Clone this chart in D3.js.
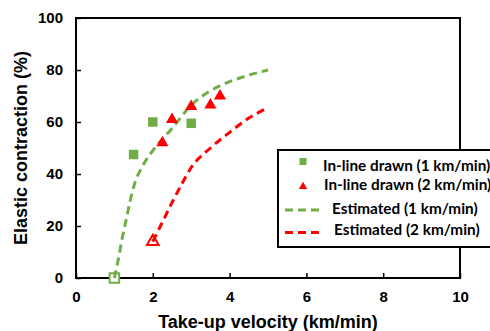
<!DOCTYPE html>
<html>
<head>
<meta charset="utf-8">
<script src="https://cdn.jsdelivr.net/npm/d3@7"></script>
<style>
  html, body { margin: 0; padding: 0; background: #fff; overflow: hidden; }
  svg { display: block; }
</style>
</head>
<body>
<svg id="chart" width="490" height="331"></svg>
<script>
// Axis ticks
const xTicks = [0, 2, 4, 6, 8, 10];
const yTicks = [0, 20, 40, 60, 80, 100];

// Measured elastic contraction (%) vs take-up velocity (km/min)
const inline1 = [{ v: 1.5, e: 47.5 }, { v: 2, e: 60 }, { v: 3, e: 59.5 }];
const inline2 = [{ v: 2.25, e: 52 }, { v: 2.5, e: 61 }, { v: 3, e: 66 }, { v: 3.5, e: 66.5 }, { v: 3.75, e: 70 }];

// Reference (zero-contraction) points at each drawing speed
const origin1 = [{ v: 1, e: 0 }];
const origin2 = [{ v: 2, e: 14 }];

// Estimated curves
const est1 = [
  { v: 1.0, e: 0 }, { v: 1.1, e: 7 }, { v: 1.2, e: 15 }, { v: 1.3, e: 22 },
  { v: 1.4, e: 29 }, { v: 1.5, e: 35 }, { v: 1.75, e: 43.5 }, { v: 2.0, e: 49 },
  { v: 2.5, e: 57.5 }, { v: 3.0, e: 66.5 }, { v: 3.5, e: 72 }, { v: 4.0, e: 75.5 },
  { v: 4.5, e: 78 }, { v: 5.0, e: 80 }
];
const est2 = [
  { v: 2.0, e: 14 }, { v: 2.25, e: 21.5 }, { v: 2.5, e: 29 }, { v: 2.75, e: 36 },
  { v: 3.0, e: 42.5 }, { v: 3.5, e: 50 }, { v: 4.0, e: 56 }, { v: 4.5, e: 61.5 },
  { v: 5.0, e: 65.5 }
];

const legendLabels = [
  "In-line drawn (1 km/min)",
  "In-line drawn (2 km/min)",
  "Estimated (1 km/min)",
  "Estimated (2 km/min)"
];

const GREEN = "#70AD47";
const RED = "#FF0000";

const svg = d3.select("#chart");
const plot = { left: 76, top: 18, right: 460, bottom: 278 };

const x = d3.scaleLinear().domain([0, 10]).range([plot.left, plot.right]);
const y = d3.scaleLinear().domain([0, 100]).range([plot.bottom, plot.top]);

const tickFont = "'Liberation Sans', Arial, sans-serif";

// Axes with inward ticks
const xAxis = svg.append("g")
  .attr("transform", `translate(0,${plot.bottom})`)
  .call(d3.axisBottom(x).tickValues(xTicks).tickSizeInner(-5).tickSizeOuter(0).tickPadding(13));
const yAxis = svg.append("g")
  .attr("transform", `translate(${plot.left},0)`)
  .call(d3.axisLeft(y).tickValues(yTicks).tickSizeInner(-5).tickSizeOuter(0).tickPadding(13));

[xAxis, yAxis].forEach(g => {
  g.select(".domain").remove();
  g.selectAll(".tick line").attr("stroke", "#000").attr("stroke-width", 1.5);
  g.selectAll(".tick text")
    .attr("font-family", tickFont)
    .attr("font-weight", "bold")
    .attr("font-size", 15)
    .attr("fill", "#000");
});

// Plot frame
svg.append("rect")
  .attr("x", plot.left).attr("y", plot.top)
  .attr("width", plot.right - plot.left).attr("height", plot.bottom - plot.top)
  .attr("fill", "none").attr("stroke", "#000").attr("stroke-width", 2);

// Axis titles
svg.append("text")
  .attr("x", (plot.left + plot.right) / 2).attr("y", 328)
  .attr("text-anchor", "middle")
  .attr("font-family", tickFont).attr("font-weight", "bold").attr("font-size", 18)
  .text("Take-up velocity (km/min)");
svg.append("text")
  .attr("transform", `translate(27,${(plot.top + plot.bottom) / 2}) rotate(-90)`)
  .attr("text-anchor", "middle")
  .attr("font-family", tickFont).attr("font-weight", "bold").attr("font-size", 18)
  .text("Elastic contraction (%)");

const sqSize = 9.5;
const triSym = d3.symbol().type(d3.symbolTriangle);

// Open reference markers
svg.selectAll(".o1").data(origin1).join("rect")
  .attr("x", d => x(d.v) - sqSize / 2).attr("y", d => y(d.e) - sqSize / 2)
  .attr("width", sqSize).attr("height", sqSize)
  .attr("fill", "#fff").attr("stroke", GREEN).attr("stroke-width", 2);
svg.selectAll(".o2").data(origin2).join("path")
  .attr("d", triSym.size(60)())
  .attr("transform", d => `translate(${x(d.v)},${y(d.e)})`)
  .attr("fill", "#fff").attr("stroke", RED).attr("stroke-width", 2);

// Estimated curves
const line = d3.line().x(d => x(d.v)).y(d => y(d.e)).curve(d3.curveMonotoneX);
svg.append("path").datum(est1).attr("d", line)
  .attr("fill", "none").attr("stroke", GREEN).attr("stroke-width", 3)
  .attr("stroke-dasharray", "8,5");
svg.append("path").datum(est2).attr("d", line)
  .attr("fill", "none").attr("stroke", RED).attr("stroke-width", 3)
  .attr("stroke-dasharray", "8,5");

// Measured points
svg.selectAll(".p1").data(inline1).join("rect")
  .attr("x", d => x(d.v) - sqSize / 2).attr("y", d => y(d.e) - sqSize / 2)
  .attr("width", sqSize).attr("height", sqSize)
  .attr("fill", GREEN);
svg.selectAll(".p2").data(inline2).join("path")
  .attr("d", triSym.size(64)())
  .attr("transform", d => `translate(${x(d.v)},${y(d.e)})`)
  .attr("fill", RED);

// Legend
const lg = svg.append("g");
lg.append("rect")
  .attr("x", 278).attr("y", 150).attr("width", 230).attr("height", 97)
  .attr("fill", "#fff").attr("stroke", "#000").attr("stroke-width", 2);

const legendFont = "Lato, 'Open Sans', sans-serif";
const rows = [
  { y: 170.5, tx: 323 },
  { y: 189.5, tx: 324 },
  { y: 214, tx: 332 },
  { y: 234.5, tx: 334 }
];
lg.append("rect").attr("x", 303 - 3.5).attr("y", 161.5 - 3.5).attr("width", 7).attr("height", 7).attr("fill", GREEN);
lg.append("path").attr("d", triSym.size(30)()).attr("transform", "translate(303,186.5)").attr("fill", RED);
lg.append("line").attr("x1", 285).attr("x2", 321).attr("y1", 210).attr("y2", 210)
  .attr("stroke", GREEN).attr("stroke-width", 3).attr("stroke-dasharray", "8,5");
lg.append("line").attr("x1", 285).attr("x2", 321).attr("y1", 232.5).attr("y2", 232.5)
  .attr("stroke", RED).attr("stroke-width", 3).attr("stroke-dasharray", "8,5");

lg.selectAll(".lt").data(legendLabels).join("text")
  .attr("x", (d, i) => rows[i].tx).attr("y", (d, i) => rows[i].y)
  .attr("font-family", legendFont).attr("font-weight", "bold").attr("font-size", 15.3)
  .attr("fill", "#000")
  .text(d => d);
</script>
</body>
</html>
